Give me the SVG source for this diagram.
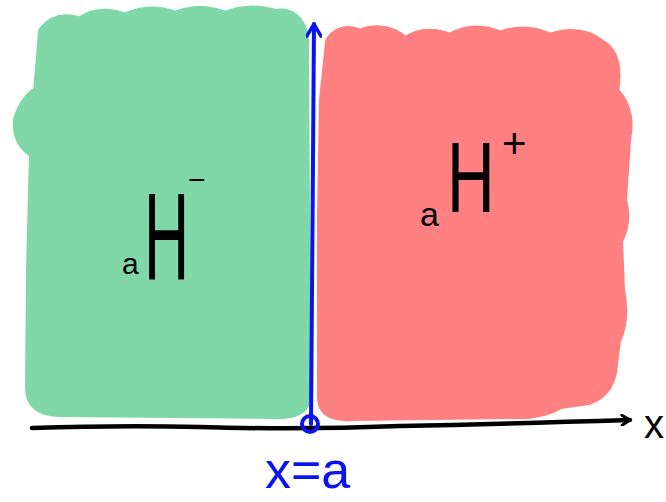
<svg xmlns="http://www.w3.org/2000/svg" width="666" height="502" viewBox="0 0 666 502">
<defs>
<style>
.blob{stroke-width:14;stroke-linejoin:round}
.green{fill:#80D8A8;stroke:#80D8A8}
.red{fill:#FF8080;stroke:#FF8080}
.ink{fill:none;stroke:#000;stroke-width:4.5;stroke-linecap:round;stroke-linejoin:round}
.blue{fill:none;stroke:#0A14F0;stroke-width:4;stroke-linecap:round;stroke-linejoin:round}
.lbl{font-family:"Liberation Sans",Arial,sans-serif;fill:#000}
</style>
<marker id="ahBlack" viewBox="0 0 12 12" refX="10" refY="6" markerWidth="12" markerHeight="12" markerUnits="userSpaceOnUse" orient="auto">
<polyline points="2,1 10,6 2,11" fill="none" stroke="#000" stroke-width="3" stroke-linecap="round" stroke-linejoin="round"/>
</marker>
<marker id="ahBlue" viewBox="0 0 16 16" refX="14" refY="8" markerWidth="16" markerHeight="16" markerUnits="userSpaceOnUse" orient="auto">
<polyline points="2,1 14,8 2,15" fill="none" stroke="#0A14F0" stroke-width="3.5" stroke-linecap="round" stroke-linejoin="round"/>
</marker>
</defs>
<rect width="666" height="502" fill="#fff"/>
<g id="region-minus">
<path class="blob green" d="M45,32 Q58,16 80,24 Q100,10 125,20 Q150,8 175,18 Q200,8 225,18 Q250,8 275,16 Q296,12 302,36 L304,400 Q300,414 270,412 L60,410 Q32,410 32,388 L33,270 L36,152 Q18,142 20,120 Q26,100 40,92 Z"/>
</g>
<g id="region-plus">
<path class="blob red" d="M332,42 Q342,28 360,36 Q385,26 405,44 Q425,30 450,40 Q475,26 500,38 Q525,28 550,40 Q580,30 600,46 Q618,56 612,92 Q630,110 624,140 L620,200 Q626,222 616,240 L618,290 Q624,320 614,340 L610,372 Q606,392 588,398 L560,402 Q540,414 510,412 L352,414 Q324,416 324,398 L324,220 L326,100 Z"/>
</g>
<g id="connectors">
<path class="ink" d="M32,428 Q120,425 200,427 Q300,430 400,426 Q500,424 630,420" marker-end="url(#ahBlack)"/>
<path class="blue" d="M311,424 Q312,250 314,24" marker-end="url(#ahBlue)"/>
<circle cx="310" cy="424" r="8" class="blue"/>
</g>
<g id="label-minus">
<text class="lbl" x="122" y="274" font-size="30">a</text>
<text class="lbl" font-size="125" transform="translate(144,280) scale(0.5,1)">H</text>
<text class="lbl" x="188" y="190" font-size="30">−</text>
</g>
<g id="label-plus">
<text class="lbl" x="420" y="226" font-size="34">a</text>
<text class="lbl" font-size="100" transform="translate(447,212) scale(0.66,1)">H</text>
<text class="lbl" x="502" y="158" font-size="42">+</text>
</g>
<g id="label-x">
<text x="265" y="488" font-size="52" font-family="Liberation Sans,Arial,sans-serif" fill="#0A14F0">x=a</text>
<text class="lbl" x="644" y="438" font-size="40">x</text>
</g>
</svg>
